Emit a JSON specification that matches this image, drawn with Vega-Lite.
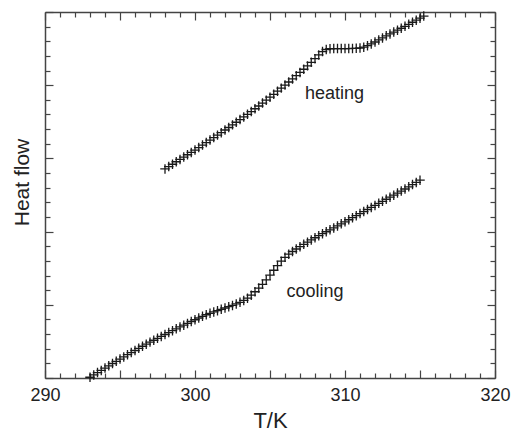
{
  "$schema": "https://vega.github.io/schema/vega-lite/v6.json",
  "width": 450,
  "height": 366,
  "autosize": {"type": "none"},
  "padding": {"left": 45, "top": 12, "right": 17, "bottom": 57},
  "background": "white",
  "config": {
    "view": {"stroke": null},
    "font": "Liberation Sans",
    "axis": {
      "grid": false,
      "domainColor": "#444",
      "domainWidth": 1.5,
      "tickColor": "#444",
      "tickWidth": 1.2,
      "labelFont": "Liberation Sans",
      "labelFontSize": 18,
      "labelColor": "#222",
      "titleFont": "Liberation Sans",
      "titleFontWeight": "normal",
      "titleColor": "#222"
    }
  },
  "datasets": {
    "heating": [
      {"T": 298.00, "v": 14.28}, {"T": 298.25, "v": 14.44}, {"T": 298.50, "v": 14.60}, {"T": 298.75, "v": 14.77},
      {"T": 299.00, "v": 14.93}, {"T": 299.25, "v": 15.09}, {"T": 299.50, "v": 15.25}, {"T": 299.75, "v": 15.41},
      {"T": 300.00, "v": 15.57}, {"T": 300.25, "v": 15.74}, {"T": 300.50, "v": 15.91}, {"T": 300.75, "v": 16.08},
      {"T": 301.00, "v": 16.25}, {"T": 301.25, "v": 16.42}, {"T": 301.50, "v": 16.59}, {"T": 301.75, "v": 16.76},
      {"T": 302.00, "v": 16.94}, {"T": 302.25, "v": 17.11}, {"T": 302.50, "v": 17.29}, {"T": 302.75, "v": 17.47},
      {"T": 303.00, "v": 17.65}, {"T": 303.25, "v": 17.83}, {"T": 303.50, "v": 18.01}, {"T": 303.75, "v": 18.20},
      {"T": 304.00, "v": 18.39}, {"T": 304.25, "v": 18.58}, {"T": 304.50, "v": 18.78}, {"T": 304.75, "v": 18.98},
      {"T": 305.00, "v": 19.18}, {"T": 305.25, "v": 19.38}, {"T": 305.50, "v": 19.59}, {"T": 305.75, "v": 19.80},
      {"T": 306.00, "v": 20.01}, {"T": 306.25, "v": 20.22}, {"T": 306.50, "v": 20.43}, {"T": 306.75, "v": 20.65},
      {"T": 307.00, "v": 20.87}, {"T": 307.25, "v": 21.09}, {"T": 307.50, "v": 21.32}, {"T": 307.75, "v": 21.56},
      {"T": 308.00, "v": 21.81}, {"T": 308.25, "v": 22.07}, {"T": 308.50, "v": 22.30}, {"T": 308.75, "v": 22.44},
      {"T": 309.00, "v": 22.49}, {"T": 309.25, "v": 22.50}, {"T": 309.50, "v": 22.50}, {"T": 309.75, "v": 22.50},
      {"T": 310.00, "v": 22.50}, {"T": 310.25, "v": 22.50}, {"T": 310.50, "v": 22.51}, {"T": 310.75, "v": 22.52},
      {"T": 311.00, "v": 22.54}, {"T": 311.25, "v": 22.60}, {"T": 311.50, "v": 22.70}, {"T": 311.75, "v": 22.82},
      {"T": 312.00, "v": 22.95}, {"T": 312.25, "v": 23.09}, {"T": 312.50, "v": 23.23}, {"T": 312.75, "v": 23.37},
      {"T": 313.00, "v": 23.50}, {"T": 313.25, "v": 23.63}, {"T": 313.50, "v": 23.76}, {"T": 313.75, "v": 23.89},
      {"T": 314.00, "v": 24.02}, {"T": 314.25, "v": 24.16}, {"T": 314.50, "v": 24.30}, {"T": 314.75, "v": 24.44},
      {"T": 315.00, "v": 24.58}, {"T": 315.25, "v": 24.72}
    ],
    "cooling": [
      {"T": 293.00, "v": 0.05}, {"T": 293.25, "v": 0.21}, {"T": 293.50, "v": 0.37}, {"T": 293.75, "v": 0.52},
      {"T": 294.00, "v": 0.68}, {"T": 294.25, "v": 0.83}, {"T": 294.50, "v": 0.99}, {"T": 294.75, "v": 1.14},
      {"T": 295.00, "v": 1.29}, {"T": 295.25, "v": 1.44}, {"T": 295.50, "v": 1.59}, {"T": 295.75, "v": 1.74},
      {"T": 296.00, "v": 1.88}, {"T": 296.25, "v": 2.03}, {"T": 296.50, "v": 2.17}, {"T": 296.75, "v": 2.31},
      {"T": 297.00, "v": 2.45}, {"T": 297.25, "v": 2.58}, {"T": 297.50, "v": 2.71}, {"T": 297.75, "v": 2.84},
      {"T": 298.00, "v": 2.97}, {"T": 298.25, "v": 3.10}, {"T": 298.50, "v": 3.23}, {"T": 298.75, "v": 3.36},
      {"T": 299.00, "v": 3.49}, {"T": 299.25, "v": 3.61}, {"T": 299.50, "v": 3.73}, {"T": 299.75, "v": 3.86},
      {"T": 300.00, "v": 3.98}, {"T": 300.25, "v": 4.10}, {"T": 300.50, "v": 4.21}, {"T": 300.75, "v": 4.32},
      {"T": 301.00, "v": 4.42}, {"T": 301.25, "v": 4.51}, {"T": 301.50, "v": 4.60}, {"T": 301.75, "v": 4.69},
      {"T": 302.00, "v": 4.78}, {"T": 302.25, "v": 4.87}, {"T": 302.50, "v": 4.96}, {"T": 302.75, "v": 5.06},
      {"T": 303.00, "v": 5.17}, {"T": 303.25, "v": 5.30}, {"T": 303.50, "v": 5.45}, {"T": 303.75, "v": 5.66},
      {"T": 304.00, "v": 5.89}, {"T": 304.25, "v": 6.14}, {"T": 304.50, "v": 6.40}, {"T": 304.75, "v": 6.70},
      {"T": 305.00, "v": 7.03}, {"T": 305.25, "v": 7.36}, {"T": 305.50, "v": 7.68}, {"T": 305.75, "v": 7.98},
      {"T": 306.00, "v": 8.24}, {"T": 306.25, "v": 8.46}, {"T": 306.50, "v": 8.64}, {"T": 306.75, "v": 8.81},
      {"T": 307.00, "v": 8.97}, {"T": 307.25, "v": 9.13}, {"T": 307.50, "v": 9.28}, {"T": 307.75, "v": 9.43},
      {"T": 308.00, "v": 9.58}, {"T": 308.25, "v": 9.72}, {"T": 308.50, "v": 9.86}, {"T": 308.75, "v": 9.99},
      {"T": 309.00, "v": 10.12}, {"T": 309.25, "v": 10.25}, {"T": 309.50, "v": 10.39}, {"T": 309.75, "v": 10.53},
      {"T": 310.00, "v": 10.67}, {"T": 310.25, "v": 10.81}, {"T": 310.50, "v": 10.95}, {"T": 310.75, "v": 11.09},
      {"T": 311.00, "v": 11.23}, {"T": 311.25, "v": 11.37}, {"T": 311.50, "v": 11.51}, {"T": 311.75, "v": 11.65},
      {"T": 312.00, "v": 11.79}, {"T": 312.25, "v": 11.93}, {"T": 312.50, "v": 12.07}, {"T": 312.75, "v": 12.21},
      {"T": 313.00, "v": 12.35}, {"T": 313.25, "v": 12.49}, {"T": 313.50, "v": 12.63}, {"T": 313.75, "v": 12.77},
      {"T": 314.00, "v": 12.91}, {"T": 314.25, "v": 13.06}, {"T": 314.50, "v": 13.21}, {"T": 314.75, "v": 13.36},
      {"T": 315.00, "v": 13.51}
    ],
    "labels": [
      {"T": 309.3, "v": 19.4, "label": "heating"},
      {"T": 308.0, "v": 5.9, "label": "cooling"}
    ]
  },
  "layer": [
    {
      "data": {"name": "heating"},
      "mark": {"type": "point", "shape": "M-1,0H1M0,-1V1", "filled": false, "stroke": "#1a1a1a", "strokeWidth": 1.3, "size": 90, "opacity": 1},
      "encoding": {
        "x": {
          "field": "T", "type": "quantitative",
          "scale": {"domain": [290, 320], "nice": false, "zero": false},
          "axis": {
            "orient": "bottom",
            "title": "T/K",
            "titleFontSize": 22,
            "titlePadding": 6,
            "values": [290,291,292,293,294,295,296,297,298,299,300,301,302,303,304,305,306,307,308,309,310,311,312,313,314,315,316,317,318,319,320],
            "labelExpr": "datum.value % 10 === 0 ? datum.label : ''",
            "tickSize": {"condition": {"test": "datum.value % 5 === 0", "value": -8}, "value": -5},
            "labelPadding": 16,
            "labelFlush": false
          }
        },
        "y": {
          "field": "v", "type": "quantitative",
          "scale": {"domain": [0, 25], "nice": false, "zero": false},
          "axis": {
            "orient": "left",
            "title": "Heat flow",
            "titleFontSize": 21,
            "titlePadding": 12,
            "titleY": 170,
            "values": [0,1,2,3,4,5,6,7,8,9,10,11,12,13,14,15,16,17,18,19,20,21,22,23,24,25],
            "labels": false,
            "tickSize": {"condition": {"test": "datum.value % 5 === 0", "value": -8}, "value": -5}
          }
        }
      }
    },
    {
      "data": {"name": "cooling"},
      "mark": {"type": "point", "shape": "M-1,0H1M0,-1V1", "filled": false, "stroke": "#1a1a1a", "strokeWidth": 1.3, "size": 90, "opacity": 1},
      "encoding": {
        "x": {
          "field": "T", "type": "quantitative",
          "axis": {
            "orient": "top",
            "title": null,
            "values": [290,291,292,293,294,295,296,297,298,299,300,301,302,303,304,305,306,307,308,309,310,311,312,313,314,315,316,317,318,319,320],
            "labels": false,
            "tickSize": {"condition": {"test": "datum.value % 5 === 0", "value": -8}, "value": -5}
          }
        },
        "y": {
          "field": "v", "type": "quantitative",
          "axis": {
            "orient": "right",
            "title": null,
            "values": [0,1,2,3,4,5,6,7,8,9,10,11,12,13,14,15,16,17,18,19,20,21,22,23,24,25],
            "labels": false,
            "tickSize": {"condition": {"test": "datum.value % 5 === 0", "value": -8}, "value": -5}
          }
        }
      }
    },
    {
      "data": {"name": "labels"},
      "mark": {"type": "text", "fontSize": 18, "font": "Liberation Sans", "color": "#222", "align": "center", "baseline": "middle"},
      "encoding": {
        "x": {"field": "T", "type": "quantitative", "axis": null},
        "y": {"field": "v", "type": "quantitative", "axis": null},
        "text": {"field": "label"}
      }
    }
  ],
  "resolve": {"axis": {"x": "independent", "y": "independent"}}
}
